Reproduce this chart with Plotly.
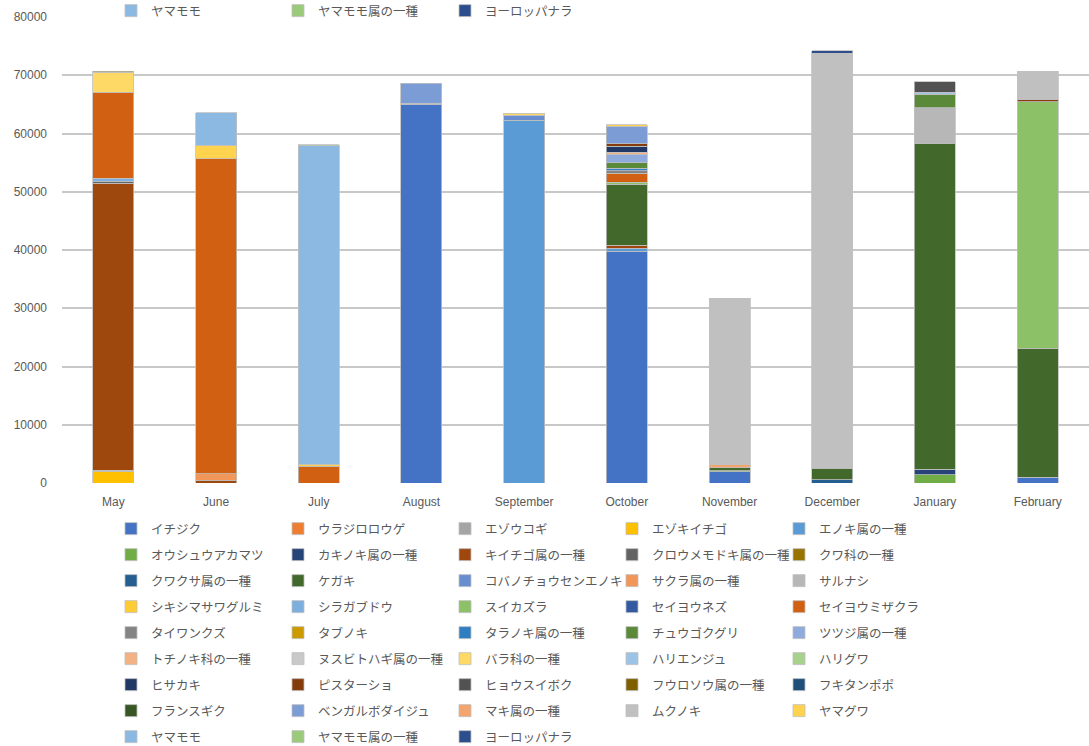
import plotly.graph_objects as go

months = ["May", "June", "July", "August", "September", "October",
          "November", "December", "January", "February"]

species = [
    "イチジク", "ウラジロロウゲ", "エゾウコギ", "エゾキイチゴ", "エノキ属の一種",
    "オウシュウアカマツ", "カキノキ属の一種", "キイチゴ属の一種", "クロウメモドキ属の一種", "クワ科の一種",
    "クワクサ属の一種", "ケガキ", "コバノチョウセンエノキ", "サクラ属の一種", "サルナシ",
    "シキシマサワグルミ", "シラガブドウ", "スイカズラ", "セイヨウネズ", "セイヨウミザクラ",
    "タイワンクズ", "タブノキ", "タラノキ属の一種", "チュウゴクグリ", "ツツジ属の一種",
    "トチノキ科の一種", "ヌスビトハギ属の一種", "バラ科の一種", "ハリエンジュ", "ハリグワ",
    "ヒサカキ", "ピスターショ", "ヒョウスイボク", "フウロソウ属の一種", "フキタンポポ",
    "フランスギク", "ベンガルボダイジュ", "マキ属の一種", "ムクノキ", "ヤマグワ",
    "ヤマモモ", "ヤマモモ属の一種", "ヨーロッパナラ",
]

colors = [
    "#4472C4", "#ED7D31", "#A5A5A5", "#FFC000", "#5B9BD5",
    "#70AD47", "#264478", "#9E480E", "#636363", "#997300",
    "#255E91", "#43682B", "#698ED0", "#F1975A", "#B7B7B7",
    "#FFCD33", "#7CAFDD", "#8CC168", "#335AA1", "#D26012",
    "#848484", "#CC9A00", "#2F7EC2", "#5A8A39", "#8FAADC",
    "#F4B183", "#C9C9C9", "#FFD966", "#9DC3E6", "#A9D18E",
    "#203864", "#843C0C", "#525252", "#7F6000", "#1F4E79",
    "#375623", "#7C9CD6", "#F3A46F", "#C0C0C0", "#FFD34D",
    "#8CB9E2", "#9BCA7B", "#2C4E8D",
]

may = {"エゾキイチゴ": 2000, "オウシュウアカマツ": 200, "キイチゴ属の一種": 49300,
       "クロウメモドキ属の一種": 300, "シラガブドウ": 500, "セイヨウミザクラ": 14800,
       "バラ科の一種": 3400, "フウロソウ属の一種": 200}
june = {"キイチゴ属の一種": 500, "サクラ属の一種": 1100, "セイヨウミザクラ": 54100,
        "ヤマグワ": 2250, "ヤマモモ": 5600}
july = {"セイヨウミザクラ": 2900, "ヤマグワ": 300, "ヤマモモ": 54700, "ヤマモモ属の一種": 200}
august = {"イチジク": 65000, "スイカズラ": 200, "ベンガルボダイジュ": 3400}
september = {"エノキ属の一種": 62300, "コバノチョウセンエノキ": 800, "バラ科の一種": 350}
october = {"イチジク": 39800, "エノキ属の一種": 500, "キイチゴ属の一種": 500, "ケガキ": 10500,
           "スイカズラ": 300, "セイヨウミザクラ": 1600, "タイワンクズ": 400,
           "タラノキ属の一種": 400, "チュウゴクグリ": 1000, "ツツジ属の一種": 1450,
           "トチノキ科の一種": 350, "ヒサカキ": 1000, "ピスターショ": 450,
           "ベンガルボダイジュ": 3000, "ヤマグワ": 250}
november = {"イチジク": 1900, "オウシュウアカマツ": 200, "ケガキ": 500,
            "マキ属の一種": 550, "ムクノキ": 28600}
december = {"クワクサ属の一種": 600, "ケガキ": 1900, "ムクノキ": 71300, "ヨーロッパナラ": 400}
january = {"オウシュウアカマツ": 1400, "カキノキ属の一種": 950, "ケガキ": 56000,
           "サルナシ": 6100, "チュウゴクグリ": 2300, "ハリエンジュ": 300, "ヒョウスイボク": 1850}
february = {"イチジク": 950, "ケガキ": 22200, "スイカズラ": 42300,
            "ピスターショ": 350, "ムクノキ": 4850}

monthly = [may, june, july, august, september, october, november, december, january, february]

TEXT = "#595959"
GRID = "#C8C8C8"
LEG_FONT = dict(family="Noto Sans CJK JP", size=12.5, color=TEXT)

W, H = 1089, 746
ML, MT, MB, MR = 62, 17, 263, 0
PW = W - ML - MR
PH = H - MT - MB

fig = go.Figure()
per_row = 5
for i, (name, col) in enumerate(zip(species, colors)):
    row = i // per_row
    leg = "legend" if row == 0 else f"legend{row + 1}"
    fig.add_trace(go.Bar(
        x=months, y=[m.get(name) for m in monthly], name=name, legend=leg,
        showlegend=True,
        marker=dict(color=col, line=dict(color="#BFBFBF", width=0.8)),
    ))

# repeated last legend row that shows at the very top of the picture
for name, col in zip(species[-3:], colors[-3:]):
    fig.add_trace(go.Bar(x=[None], y=[None], name=name, legend="legend10", showlegend=True,
                         marker=dict(color=col, line=dict(color="#BFBFBF", width=0.8))))

layout = dict(
    width=W, height=H, showlegend=True,
    margin=dict(l=ML, r=MR, t=MT, b=MB, pad=0, autoexpand=False),
    paper_bgcolor="white", plot_bgcolor="white",
    barmode="stack", bargap=0.6,
    font=dict(family="Liberation Sans", color=TEXT, size=12),
    xaxis=dict(showgrid=False, showline=False, zeroline=False, ticks="",
               tickfont=dict(family="Liberation Sans", size=12, color=TEXT),
               ticklabelstandoff=10),
    yaxis=dict(range=[0, 80000], dtick=10000, tickformat="d",
               showgrid=True, gridcolor=GRID, gridwidth=1.6,
               zeroline=False, showline=False, ticks="",
               tickfont=dict(family="Liberation Sans", size=12, color=TEXT),
               ticklabelstandoff=14),
)

row_px = [529, 555, 581, 607, 633, 659, 685, 711, 737]
x_leg = (111 - ML) / PW
leg_common = dict(orientation="h", x=x_leg, xanchor="left", yanchor="middle",
                  entrywidth=122, entrywidthmode="pixels",
                  font=LEG_FONT, bgcolor="rgba(0,0,0,0)",
                  traceorder="normal", visible=True)
for r, py in enumerate(row_px):
    key = "legend" if r == 0 else f"legend{r + 1}"
    layout[key] = dict(leg_common, y=(H - MB - py) / PH)
layout["legend10"] = dict(leg_common, y=(H - MB - 11) / PH)

fig.update_layout(**layout)
fig.write_html("out.html")
